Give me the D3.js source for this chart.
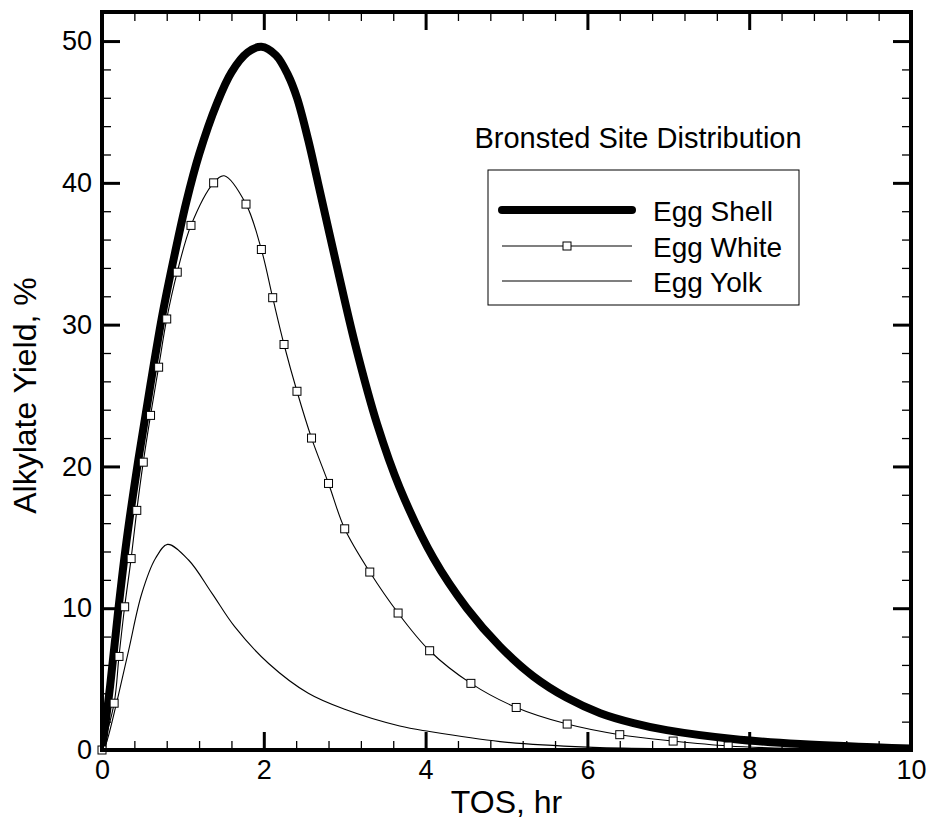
<!DOCTYPE html>
<html>
<head>
<meta charset="utf-8">
<script src="https://cdn.jsdelivr.net/npm/d3@7"></script>
<style>
  body { margin: 0; background: #fff; }
  text { font-family: "Liberation Sans", Arial, sans-serif; fill: #000; }
</style>
</head>
<body>
<div class="chart"></div>
<script>
// data
var shellX = [0, 0.1, 0.2, 0.3, 0.45, 0.6, 0.75, 0.9, 1.04, 1.2, 1.42, 1.6, 1.8, 1.97, 2.15, 2.3, 2.41, 2.55, 2.67, 2.9, 3.13, 3.4, 3.68, 4.1, 4.51, 4.92, 5.33, 5.74, 6.16, 6.57, 6.98, 7.8, 8.63, 10];
var shellY = [0, 4.5, 9.8, 14.6, 20.5, 25.8, 30.8, 35.0, 38.6, 42.0, 45.6, 47.8, 49.2, 49.6, 49.0, 47.6, 46, 43, 40, 34.2, 28.6, 23.0, 18.5, 13.5, 10.0, 7.3, 5.2, 3.7, 2.6, 1.9, 1.4, 0.78, 0.42, 0.1];

var whiteX = [0, 0.15, 0.21, 0.28, 0.36, 0.43, 0.51, 0.6, 0.7, 0.8, 0.93, 1.1, 1.38, 1.51, 1.78, 1.97, 2.11, 2.25, 2.41, 2.59, 2.8, 3.0, 3.31, 3.66, 4.05, 4.56, 5.12, 5.75, 6.4, 7.06, 7.74, 8.5, 10];
var whiteY = [0, 3.3, 6.6, 10.1, 13.5, 16.9, 20.3, 23.6, 27.0, 30.4, 33.7, 37.0, 40.0, 40.5, 38.5, 35.3, 31.9, 28.6, 25.3, 22.0, 18.8, 15.6, 12.55, 9.66, 7.0, 4.7, 3.0, 1.83, 1.08, 0.63, 0.28, 0.12, 0.02];
// square markers on the white curve
var markX = [0, 0.15, 0.21, 0.28, 0.36, 0.43, 0.51, 0.6, 0.7, 0.8, 0.93, 1.1, 1.38, 1.78, 1.97, 2.11, 2.25, 2.41, 2.59, 2.8, 3.0, 3.31, 3.66, 4.05, 4.56, 5.12, 5.75, 6.4, 7.06, 7.74];
var markY = [0, 3.3, 6.6, 10.1, 13.5, 16.9, 20.3, 23.6, 27.0, 30.4, 33.7, 37.0, 40.0, 38.5, 35.3, 31.9, 28.6, 25.3, 22.0, 18.8, 15.6, 12.55, 9.66, 7.0, 4.7, 3.0, 1.83, 1.08, 0.63, 0.28];

var yolkX = [0, 0.04, 0.08, 0.2, 0.33, 0.49, 0.66, 0.81, 1.07, 1.36, 1.64, 2.06, 2.55, 3.0, 3.68, 4.05, 4.92, 6, 7, 8, 10];
var yolkY = [0, 0.3, 1.0, 3.8, 7.05, 11.0, 13.5, 14.5, 13.4, 11.05, 8.7, 6.1, 4.0, 2.87, 1.69, 1.3, 0.59, 0.2, 0.08, 0.03, 0];

var seriesNames = ["Egg Shell", "Egg White", "Egg Yolk"];
var xMajor = [0, 2, 4, 6, 8, 10];
var yMajor = [0, 10, 20, 30, 40, 50];

var W = 930, H = 822;
var mLeft = 102, mRight = 911, mTop = 12, mBottom = 750;

var svg = d3.select(".chart").append("svg")
    .attr("width", W)
    .attr("height", H);

var x = d3.scaleLinear().domain([0, 10]).range([mLeft, mRight]);
var y = d3.scaleLinear().domain([0, 52.05]).range([mBottom, mTop]);

var xMinor = d3.range(0, 10.001, 0.4).filter(function (v) { return Math.abs(v / 2 - Math.round(v / 2)) > 0.01; });
var yMinor = d3.range(0, 52, 2).filter(function (v) { return v % 10 != 0; });

// ticks on all four sides, pointing in
function addAxis(axis, tx, ty, w) {
    var g = svg.append("g")
        .attr("transform", "translate(" + tx + "," + ty + ")")
        .call(axis);
    g.select(".domain").remove();
    g.selectAll(".tick line").attr("stroke", "#000").attr("stroke-width", w);
    return g;
}
addAxis(d3.axisBottom(x).tickValues(xMinor).tickSize(-9).tickFormat(""), 0, mBottom, 1.3);
addAxis(d3.axisTop(x).tickValues(xMinor).tickSize(-9).tickFormat(""), 0, mTop, 1.3);
addAxis(d3.axisLeft(y).tickValues(yMinor).tickSize(-9).tickFormat(""), mLeft, 0, 1.3);
addAxis(d3.axisRight(y).tickValues(yMinor).tickSize(-9).tickFormat(""), mRight, 0, 1.3);
addAxis(d3.axisTop(x).tickValues(xMajor).tickSize(-18).tickFormat(""), 0, mTop, 3);
addAxis(d3.axisRight(y).tickValues(yMajor).tickSize(-18).tickFormat(""), mRight, 0, 3);

var gx = addAxis(d3.axisBottom(x).tickValues(xMajor).tickSize(-18).tickPadding(10), 0, mBottom, 3);
gx.selectAll("text").style("font-size", "27px").attr("dy", "0.71em")
    .style("font-family", "'Liberation Sans', Arial, sans-serif");
var gy = addAxis(d3.axisLeft(y).tickValues(yMajor).tickSize(-18).tickPadding(10), mLeft, 0, 3);
gy.selectAll("text").style("font-size", "27px")
    .style("font-family", "'Liberation Sans', Arial, sans-serif");

// curves
svg.append("clipPath").attr("id", "clip")
    .append("rect").attr("x", mLeft).attr("y", mTop).attr("width", mRight - mLeft).attr("height", mBottom - mTop);

function pairs(xs, ys) { return xs.map(function (v, i) { return [v, ys[i]]; }); }
var line = d3.line()
    .x(function (d) { return x(d[0]); })
    .y(function (d) { return y(d[1]); })
    .curve(d3.curveCatmullRom.alpha(0.5));

var plot = svg.append("g").attr("clip-path", "url(#clip)");

plot.append("path").datum(pairs(yolkX, yolkY))
    .attr("d", line).attr("fill", "none").attr("stroke", "#000").attr("stroke-width", 1.1);
plot.append("path").datum(pairs(whiteX, whiteY))
    .attr("d", line).attr("fill", "none").attr("stroke", "#000").attr("stroke-width", 1.1);
plot.append("path").datum(pairs(shellX, shellY))
    .attr("d", line).attr("fill", "none").attr("stroke", "#000").attr("stroke-width", 8)
    .attr("stroke-linejoin", "round").attr("stroke-linecap", "round");

svg.append("g").selectAll("rect")
    .data(pairs(markX, markY))
    .enter().append("rect")
    .attr("x", function (d) { return x(d[0]) - 4; })
    .attr("y", function (d) { return y(d[1]) - 4; })
    .attr("width", 8)
    .attr("height", 8)
    .attr("fill", "#fff")
    .attr("stroke", "#000")
    .attr("stroke-width", 1);

// frame
svg.append("rect")
    .attr("x", mLeft).attr("y", mTop)
    .attr("width", mRight - mLeft).attr("height", mBottom - mTop)
    .attr("fill", "none").attr("stroke", "#000").attr("stroke-width", 4);

// axis titles
svg.append("text")
    .attr("x", (mLeft + mRight) / 2)
    .attr("y", 813)
    .attr("text-anchor", "middle")
    .style("font-size", "32px")
    .text("TOS, hr");

svg.append("text")
    .attr("transform", "translate(36," + y(25) + ") rotate(-90)")
    .attr("text-anchor", "middle")
    .style("font-size", "32px")
    .text("Alkylate Yield, %");

// legend
svg.append("text")
    .attr("x", 638)
    .attr("y", 148)
    .attr("text-anchor", "middle")
    .style("font-size", "29px")
    .text("Bronsted Site Distribution");

svg.append("rect")
    .attr("x", 488).attr("y", 170)
    .attr("width", 311).attr("height", 135)
    .attr("fill", "#fff").attr("stroke", "#000").attr("stroke-width", 1);

var legY = [210, 246, 281];
svg.append("line").attr("x1", 502).attr("x2", 632).attr("y1", legY[0]).attr("y2", legY[0])
    .attr("stroke", "#000").attr("stroke-width", 8).attr("stroke-linecap", "round");
svg.append("line").attr("x1", 502).attr("x2", 632).attr("y1", legY[1]).attr("y2", legY[1])
    .attr("stroke", "#000").attr("stroke-width", 1.1);
svg.append("rect").attr("x", 563).attr("y", legY[1] - 4).attr("width", 8).attr("height", 8)
    .attr("fill", "#fff").attr("stroke", "#000").attr("stroke-width", 1);
svg.append("line").attr("x1", 502).attr("x2", 632).attr("y1", legY[2]).attr("y2", legY[2])
    .attr("stroke", "#000").attr("stroke-width", 1.1);

svg.append("g").selectAll("text")
    .data(seriesNames)
    .enter().append("text")
    .attr("x", 653)
    .attr("y", function (d, i) { return legY[i] + 11; })
    .style("font-size", "28px")
    .text(function (d) { return d; });
</script>
</body>
</html>
